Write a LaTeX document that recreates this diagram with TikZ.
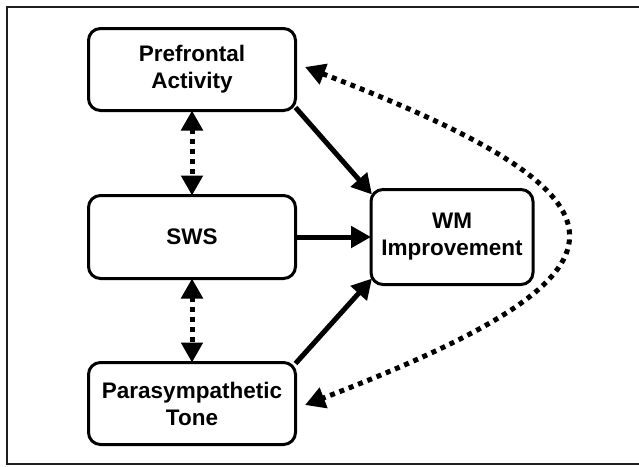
\documentclass[tikz,border=0pt]{standalone}
\usepackage{fontspec}
\setmainfont{Liberation Sans}
\usetikzlibrary{arrows.meta,calc}
\begin{document}
\begin{tikzpicture}[x=1pt,y=-1pt,
  box/.style={draw=black,line width=3pt,rounded corners=12pt,align=center,
    font=\fontsize{22.5}{27}\selectfont\bfseries,outer sep=0pt,inner sep=0pt},
  solidarrow/.style={line width=5pt,-{Triangle[length=20pt,width=21pt]},shorten >=0pt},
  dotarrow/.style={line width=5pt,dash pattern=on 5pt off 5pt,
    {Triangle[length=20pt,width=21pt]}-{Triangle[length=20pt,width=21pt]}}]
\useasboundingbox (0,0) rectangle (639,466);
\draw[line width=2pt,color=black!88] (641,7) -- (7,7) -- (7,464) -- (641,464);
\node[box,minimum width=207pt,minimum height=82pt] (pf) at (192,69.5) {Prefrontal\\Activity};
\node[box,minimum width=207pt,minimum height=83pt] (sws) at (192,237) {SWS};
\node[box,minimum width=207pt,minimum height=82pt] (pt) at (192,403.5) {Parasympathetic\\Tone};
\node[box,minimum width=162pt,minimum height=95pt] (wm) at (452,237) {WM\\Improvement};
\draw[dotarrow] (pf.south) -- (sws.north);
\draw[dotarrow] (sws.south) -- (pt.north);
\draw[solidarrow] ($(pf.east)+(0,38)$) -- ($(wm.north west)+(1,5)$);
\draw[solidarrow] (sws.east) -- (wm.west);
\draw[solidarrow] ($(pt.east)+(0,-40)$) -- ($(wm.south west)+(1,-6)$);
\coordinate (ctop) at (305,67);
\coordinate (cbot) at (305,405);
\draw[dotarrow] (ctop) .. controls (652,200) and (652,272) .. (cbot);
\end{tikzpicture}
\end{document}
